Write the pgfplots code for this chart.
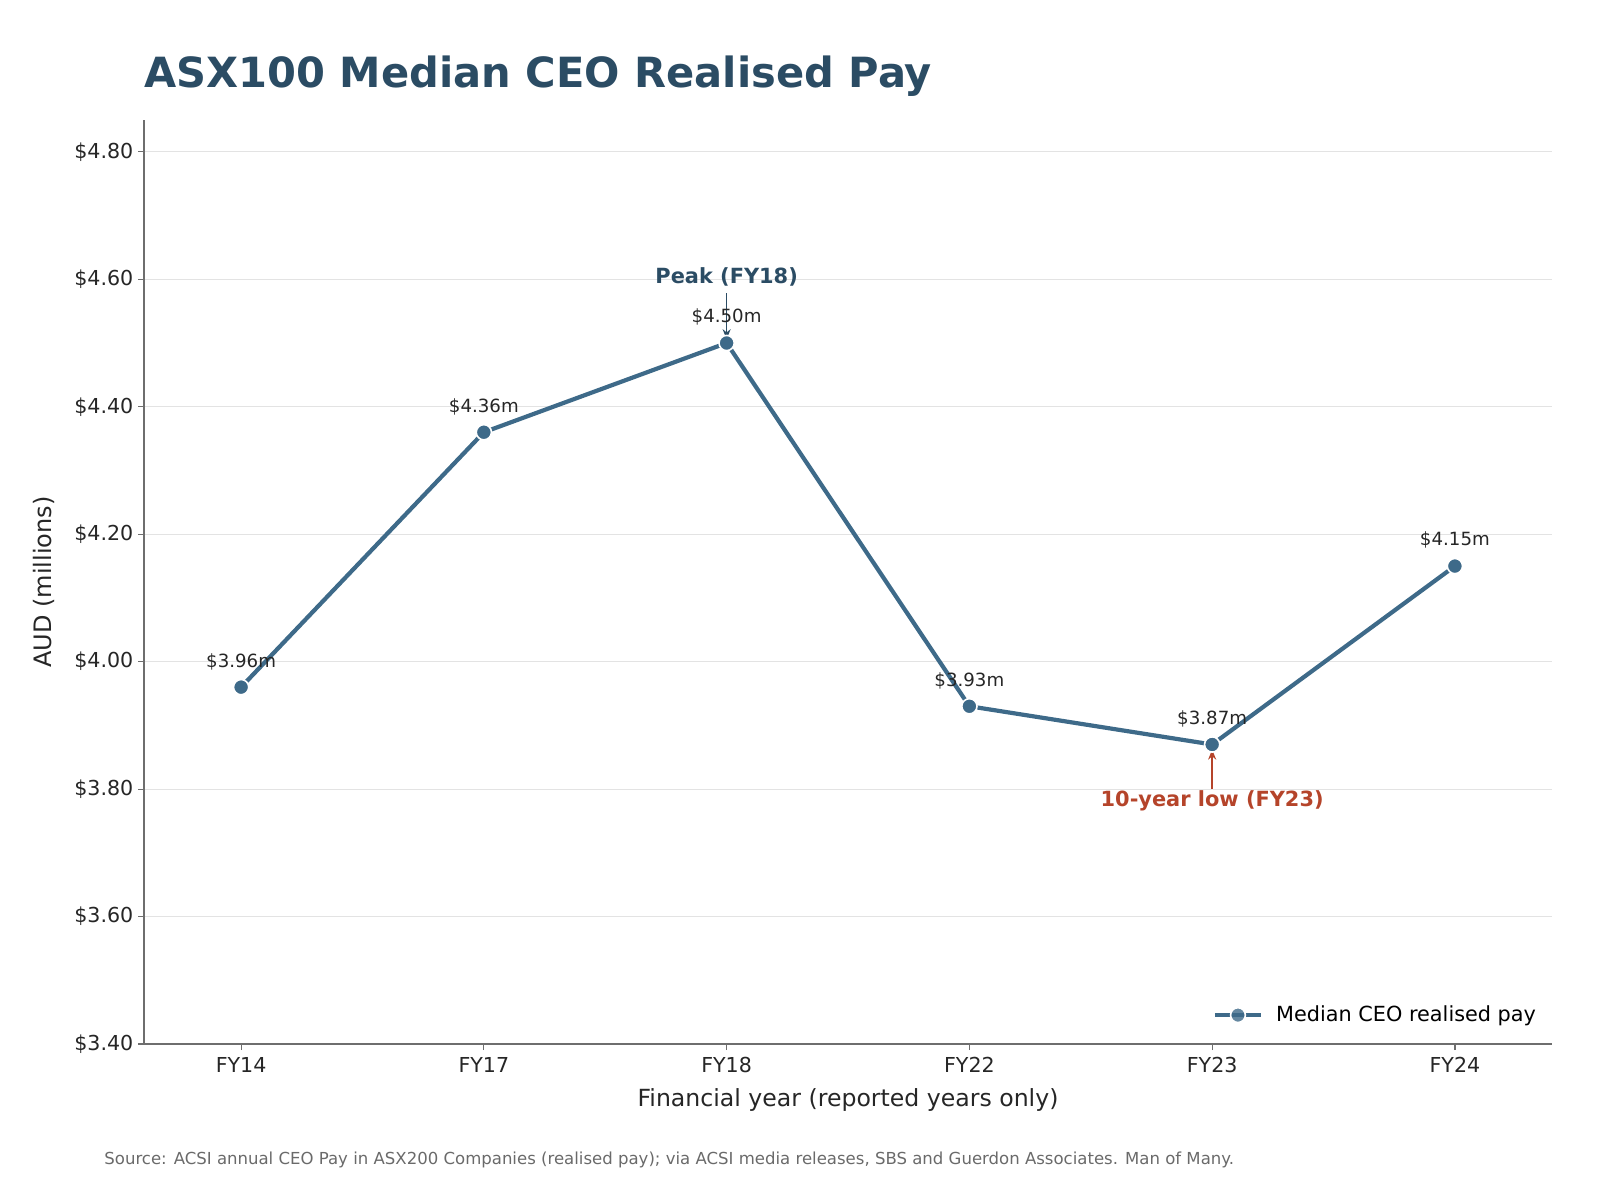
\documentclass[border=0pt]{standalone}
\usepackage{pgfplots}
\pgfplotsset{compat=1.18}
\usepackage{fontspec}
\setmainfont{DejaVu Sans}
\usetikzlibrary{arrows.meta}

\definecolor{payline}{HTML}{3E6A89}
\definecolor{titleblue}{HTML}{2B4C64}
\definecolor{lowred}{HTML}{B5442A}
\definecolor{gridgray}{HTML}{E3E3E3}
\definecolor{spinegray}{HTML}{6E6E6E}
\definecolor{textdark}{HTML}{262626}
\definecolor{sourcegray}{HTML}{6A6A6A}

\begin{document}
\begin{tikzpicture}
\useasboundingbox (0,0) rectangle (800pt,600pt);
\begin{axis}[
  at={(72pt,78pt)}, anchor=south west,
  scale only axis, width=704pt, height=462pt,
  xmin=-0.4, xmax=5.4, ymin=3.40, ymax=4.85,
  xtick={0,...,5},
  xticklabels={FY14,FY17,FY18,FY22,FY23,FY24},
  ytick={3.4,3.6,...,4.81},
  yticklabel={\$\pgfmathprintnumber[fixed,fixed zerofill,precision=2,assume math mode=true]{\tick}},
  ticklabel style={font=\fontsize{10.3pt}{12pt}\selectfont, text=textdark},
  yticklabel style={xshift=1.2pt},
  axis lines*=left,
  axis line style={spinegray, line width=0.6pt},
  tick style={spinegray, line width=0.6pt},
  tick align=outside, major tick length=3pt,
  ymajorgrids, grid style={gridgray, line width=0.5pt},
  xmajorgrids=false,
  clip=false,
  legend style={draw=none, fill=white, fill opacity=0.8, text opacity=1,
    at={(rel axis cs:0.996,0.012)}, anchor=south east,
    font=\fontsize{10.4pt}{12pt}\selectfont, text=black,
    /tikz/every odd column/.append style={column sep=4.6pt}},
  legend cell align=left,
  legend image code/.code={
    \draw[payline, line width=2pt] (0pt,0pt) -- (23pt,0pt);
    \fill[payline, draw=white, line width=0.8pt] (11.5pt,0pt) circle (3.7pt);
  },
]
\addplot[payline, line width=2.1pt, mark=*, mark size=3.8pt,
  mark options={fill=payline, draw=white, line width=0.8pt},
  nodes near coords={\$\pgfmathprintnumber[fixed,fixed zerofill,precision=2,assume math mode=true]{\pgfplotspointmeta}m},
  every node near coord/.append style={font=\fontsize{9.1pt}{10pt}\selectfont, text=textdark, yshift=5pt},
  point meta=y]
  coordinates {(0,3.96) (1,4.36) (2,4.50) (3,3.93) (4,3.87) (5,4.15)};
\addlegendentry{Median CEO realised pay}

% peak annotation
\node[font=\bfseries\fontsize{10.45pt}{12pt}\selectfont, text=titleblue] at (axis cs:2,4.603) {Peak (FY18)};
\draw[-{Stealth[length=5pt,width=4pt]}, titleblue, line width=0.8pt] (axis cs:2,4.578) -- (axis cs:2,4.506);
% low annotation
\node[font=\bfseries\fontsize{10.45pt}{12pt}\selectfont, text=lowred] at (axis cs:4,3.782) {10-year low (FY23)};
\draw[-{Stealth[length=5pt,width=4pt]}, lowred, line width=0.8pt] (axis cs:4,3.80) -- (axis cs:4,3.862);
\end{axis}

\node[anchor=base west, inner sep=0pt, font=\bfseries\fontsize{20.8pt}{25pt}\selectfont, text=titleblue] at (72pt,556pt) {ASX100 Median CEO Realised Pay};
\node[rotate=90, font=\fontsize{12pt}{14pt}\selectfont, text=textdark] at (22pt,309pt) {AUD (millions)};
\node[font=\fontsize{11.8pt}{14pt}\selectfont, text=textdark] at (424pt,50pt) {Financial year (reported years only)};
\node[anchor=west, font=\fontsize{8.27pt}{10pt}\selectfont, text=sourcegray, inner sep=0pt] at (52pt,20pt) {Source: ACSI annual CEO Pay in ASX200 Companies (realised pay); via ACSI media releases, SBS and Guerdon Associates. Man of Many.};
\end{tikzpicture}
\end{document}
